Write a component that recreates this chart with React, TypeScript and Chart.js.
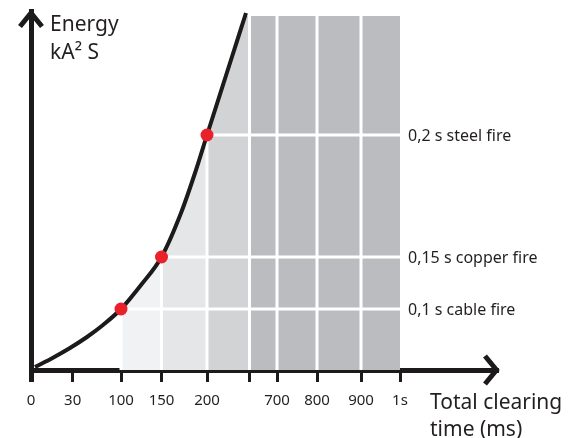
import React, { useEffect, useRef } from 'react';
import { Chart, registerables } from 'chart.js';

Chart.register(...registerables);

const W = 571;
const H = 438;

// Schematic (non-linear) time axis: label and its position along the axis
const tickLabels = ['0', '30', '100', '150', '200', '', '700', '800', '900', '1s'];
const tickPositions = [0, 41.7, 90, 130.5, 176, 218.5, 246, 286, 330, 369];

// Let-through energy curve (axis position, energy in arbitrary units)
const curveTime = [4, 22, 39, 56, 72, 90, 110, 130.5, 150, 165, 176, 195, 215];
const curveEnergy = [3, 12.3, 22, 33, 45, 61, 85, 113, 157, 200, 235, 294.5, 357];

// Fire thresholds
const fireTime = [90, 130.5, 176];
const fireEnergy = [61, 113, 235];
const fireLabels = ['0,1 s cable fire', '0,15 s copper fire', '0,2 s steel fire'];

// Shaded zones
const zoneStarts = [90, 130.5, 176, 218.5];
const zoneColors = ['#f1f2f3', '#e5e6e8', '#d2d3d5', '#bbbcbf'];
const zoneTop = 354;
const zoneEnd = 369;

const xMax = 467;
const yMax = 359;

const INK = '#1c1a1b';
const TEXT = '#231f20';
const FONT = "'Noto Sans', 'Open Sans', sans-serif";

const decorPlugin = {
  id: 'decor',
  afterDatasetDraw(chart: any, args: any) {
    if (args.index !== 0) return;
    const { ctx, scales } = chart;
    const x = scales.x;
    const y = scales.y;
    ctx.save();
    ctx.strokeStyle = '#ffffff';
    ctx.lineWidth = 3;
    ctx.beginPath();
    tickPositions.forEach((v) => {
      if (v < zoneStarts[0] || v >= zoneEnd) return;
      const px = x.getPixelForValue(v);
      ctx.moveTo(px, y.getPixelForValue(0));
      ctx.lineTo(px, y.getPixelForValue(zoneTop) - 1);
    });
    fireEnergy.forEach((e) => {
      const py = y.getPixelForValue(e);
      ctx.moveTo(x.getPixelForValue(zoneStarts[0]), py);
      ctx.lineTo(x.getPixelForValue(zoneEnd) + 1, py);
    });
    ctx.stroke();
    ctx.restore();
  },
  afterDraw(chart: any) {
    const { ctx, chartArea, scales } = chart;
    const x = scales.x;
    const y = scales.y;
    ctx.save();
    // arrows
    ctx.strokeStyle = INK;
    ctx.lineWidth = 5;
    ctx.lineJoin = 'miter';
    ctx.lineCap = 'butt';
    const ax = chartArea.left;
    const at = chartArea.top;
    ctx.beginPath();
    ctx.moveTo(ax - 11, at + 15.5);
    ctx.lineTo(ax, at + 2);
    ctx.lineTo(ax + 11, at + 15.5);
    ctx.stroke();
    const bx = chartArea.right;
    const by = chartArea.bottom;
    ctx.beginPath();
    ctx.moveTo(bx - 13, by - 14);
    ctx.lineTo(bx - 1.5, by);
    ctx.lineTo(bx - 13, by + 14);
    ctx.stroke();

    // texts
    ctx.fillStyle = TEXT;
    ctx.textAlign = 'left';
    ctx.textBaseline = 'alphabetic';
    ctx.font = `21px ${FONT}`;
    ctx.fillText('Energy', 50, 31);
    ctx.fillText('kA² S', 50, 58.5);
    ctx.fillText('Total clearing', 430, 408.5);
    ctx.fillText('time (ms)', 430, 436);

    ctx.font = `16px ${FONT}`;
    ctx.textBaseline = 'middle';
    fireLabels.forEach((lbl, i) => {
      ctx.fillText(lbl, x.getPixelForValue(zoneEnd) + 8, y.getPixelForValue(fireEnergy[i]) + 1.5);
    });
    ctx.restore();
  },
};

export default function App() {
  const ref = useRef<HTMLCanvasElement>(null);

  useEffect(() => {
    document.body.style.margin = '0';
    const canvas = ref.current;
    if (!canvas) return;

    const curveData = curveTime.map((t, i) => ({ x: t, y: curveEnergy[i] }));
    const fillData = curveTime
      .map((t, i) => ({ x: t, y: Math.min(curveEnergy[i], zoneTop) }))
      .filter((p) => p.x >= zoneStarts[0]);
    fillData.push({ x: zoneStarts[3], y: zoneTop });
    fillData.push({ x: zoneEnd, y: zoneTop });
    const dotData = fireTime.map((t, i) => ({ x: t, y: fireEnergy[i] }));

    const zoneColorFor = (v: number) => {
      let idx = -1;
      zoneStarts.forEach((s, i) => {
        if (v >= s - 0.001) idx = i;
      });
      return idx < 0 ? 'rgba(0,0,0,0)' : zoneColors[idx];
    };

    const chart = new Chart(canvas, {
      type: 'line',
      data: {
        datasets: [
          {
            label: 'zones',
            data: fillData,
            borderWidth: 0,
            borderColor: 'rgba(0,0,0,0)',
            backgroundColor: zoneColors[0],
            pointRadius: 0,
            tension: 0.4,
            cubicInterpolationMode: 'monotone',
            fill: 'origin',
            order: 3,
            segment: {
              backgroundColor: (c: any) => zoneColorFor(c.p0.parsed.x),
            },
          } as any,
          {
            label: 'energy',
            data: curveData,
            borderColor: INK,
            borderWidth: 4,
            pointRadius: 0,
            tension: 0.4,
            cubicInterpolationMode: 'monotone',
            fill: false,
            order: 2,
          },
          {
            label: 'fire',
            data: dotData,
            showLine: false,
            pointRadius: 6.5,
            pointHoverRadius: 6.5,
            pointBackgroundColor: '#e8212b',
            pointBorderWidth: 0,
            borderWidth: 0,
            fill: false,
            order: 1,
          },
        ],
      },
      options: {
        responsive: false,
        animation: false,
        events: [],
        layout: { padding: { left: 31, top: 11, right: W - 498, bottom: 0 } },
        plugins: {
          legend: { display: false },
          tooltip: { enabled: false },
          title: { display: false },
        },
        scales: {
          x: {
            type: 'linear',
            min: 0,
            max: xMax,
            z: 1,
            afterBuildTicks: (scale: any) => {
              scale.ticks = tickPositions.map((v) => ({ value: v }));
            },
            afterFit: (scale: any) => {
              scale.height = H - 370;
            },
            ticks: {
              autoSkip: false,
              maxRotation: 0,
              minRotation: 0,
              padding: 10,
              color: TEXT,
              font: { family: FONT, size: 15 },
              callback: (_v: any, i: number) => tickLabels[i],
            },
            grid: {
              display: true,
              drawOnChartArea: false,
              drawTicks: true,
              tickLength: 12,
              tickColor: INK,
              tickWidth: (c: any) => (c.index === 0 ? 5 : 3),
            },
            border: { display: true, color: INK, width: 5 },
          },
          y: {
            type: 'linear',
            min: 0,
            max: yMax,
            z: 1,
            afterFit: (scale: any) => {
              scale.width = 0;
            },
            ticks: { display: false },
            grid: { display: false },
            border: { display: true, color: INK, width: 5 },
          },
        },
      } as any,
      plugins: [decorPlugin],
    });

    return () => chart.destroy();
  }, []);

  return (
    <div style={{ position: 'absolute', left: 0, top: 0, width: W, height: H, background: '#ffffff' }}>
      <canvas ref={ref} width={W} height={H} style={{ width: W, height: H, display: 'block' }} />
    </div>
  );
}
